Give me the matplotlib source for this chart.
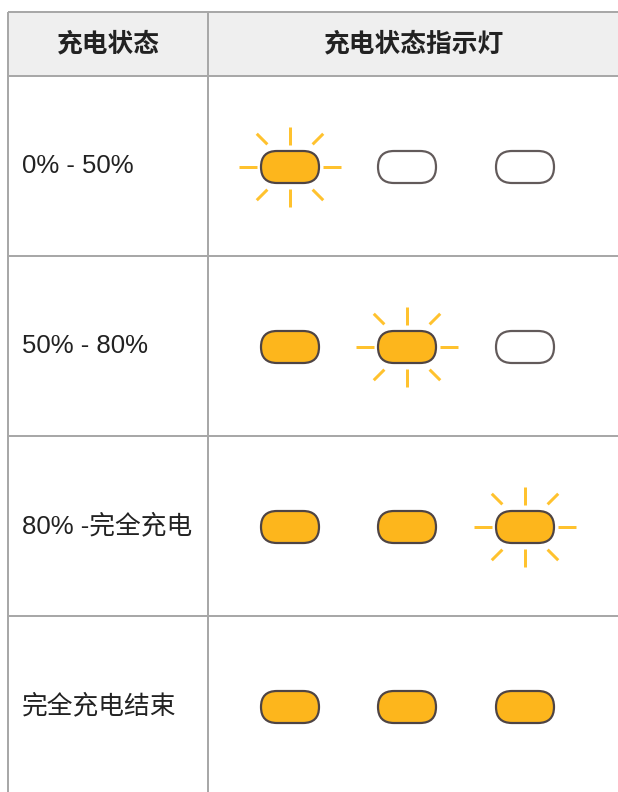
import matplotlib

matplotlib.use("Agg")
import matplotlib.pyplot as plt
import matplotlib.patches as mpatches
import numpy as np

plt.rcParams["font.family"] = ["Liberation Sans", "Noto Sans CJK SC", "DejaVu Sans"]

# ---------------------------------------------------------------------------
# Data
# ---------------------------------------------------------------------------
headers = ["充电状态", "充电状态指示灯"]
states = ["0% - 50%", "50% - 80%", "80% -完全充电", "完全充电结束"]
# per row: lamp state for each of the 3 indicator lamps
lamps = [
    ["blink", "off", "off"],
    ["on", "blink", "off"],
    ["on", "on", "blink"],
    ["on", "on", "on"],
]

# ---------------------------------------------------------------------------
# Styles (pixel coordinates)
# ---------------------------------------------------------------------------
W, H = 618, 792
LEFT, TOP, COL = 8, 12, 208
HEAD_BOT = 76
ROW_H = 180
LAMP_X = [290, 407, 525]
LAMP_W, LAMP_H = 58, 32
C_GRID = "#a8a8a8"
C_HEAD = "#efefef"
C_ON = "#fdb61c"
C_RAY = "#ffc22e"
C_EDGE = "#4e4444"
C_OFF_EDGE = "#625a5a"
C_TEXT = "#222222"
PX = 0.72  # points per pixel at dpi 100

fig = plt.figure(figsize=(W / 100, H / 100), dpi=100)
ax = fig.add_axes([0, 0, 1, 1])
ax.set_xlim(0, W)
ax.set_ylim(H, 0)
ax.axis("off")

# header background
ax.add_patch(mpatches.Rectangle((LEFT, TOP), W - LEFT, HEAD_BOT - TOP,
                                facecolor=C_HEAD, edgecolor="none", zorder=1))

# grid lines
row_lines = [HEAD_BOT + ROW_H * i for i in range(len(states))]
for y in [TOP] + row_lines:
    ax.plot([LEFT, W], [y, y], color=C_GRID, lw=2 * PX, zorder=2,
            solid_capstyle="butt")
for x in [LEFT, COL]:
    ax.plot([x, x], [TOP, H], color=C_GRID, lw=2 * PX, zorder=2,
            solid_capstyle="butt")

# header text
hfont = dict(family=["Noto Sans CJK SC", "DejaVu Sans"], fontsize=18.5,
             fontweight="bold", color=C_TEXT, zorder=3)
ax.text((LEFT + COL) / 2, (TOP + HEAD_BOT) / 2, headers[0], ha="center",
        va="center", **hfont)
ax.text((COL + W) / 2 + 1, (TOP + HEAD_BOT) / 2, headers[1], ha="center",
        va="center", **hfont)


def draw_rays(cx, cy):
    for ang in np.arange(0, 360, 45):
        a = np.deg2rad(ang)
        if ang % 90 == 0 and ang % 180 != 0:
            r0, r1 = 22, 40       # vertical rays
        elif ang % 180 == 0:
            r0, r1 = 33, 51       # horizontal rays
        else:
            r0, r1 = 32, 47       # diagonal rays
        ax.plot([cx + r0 * np.cos(a), cx + r1 * np.cos(a)],
                [cy + r0 * np.sin(a), cy + r1 * np.sin(a)],
                color=C_RAY, lw=3 * PX, solid_capstyle="butt", zorder=3)


for i, (label, row) in enumerate(zip(states, lamps)):
    cy = HEAD_BOT + ROW_H * i + ROW_H / 2 + 1
    ax.text(22, cy - 1, label, ha="left", va="center", fontsize=18.5,
            color=C_TEXT, zorder=3)
    for cx, st in zip(LAMP_X, row):
        if st == "blink":
            draw_rays(cx, cy)
        face = "white" if st == "off" else C_ON
        edge = C_OFF_EDGE if st == "off" else C_EDGE
        ax.add_patch(mpatches.FancyBboxPatch(
            (cx - LAMP_W / 2, cy - LAMP_H / 2), LAMP_W, LAMP_H,
            boxstyle=f"round,pad=0,rounding_size={LAMP_H / 2}",
            facecolor=face, edgecolor=edge, lw=2.2 * PX, zorder=4))

fig.savefig("out.png", dpi=100)
